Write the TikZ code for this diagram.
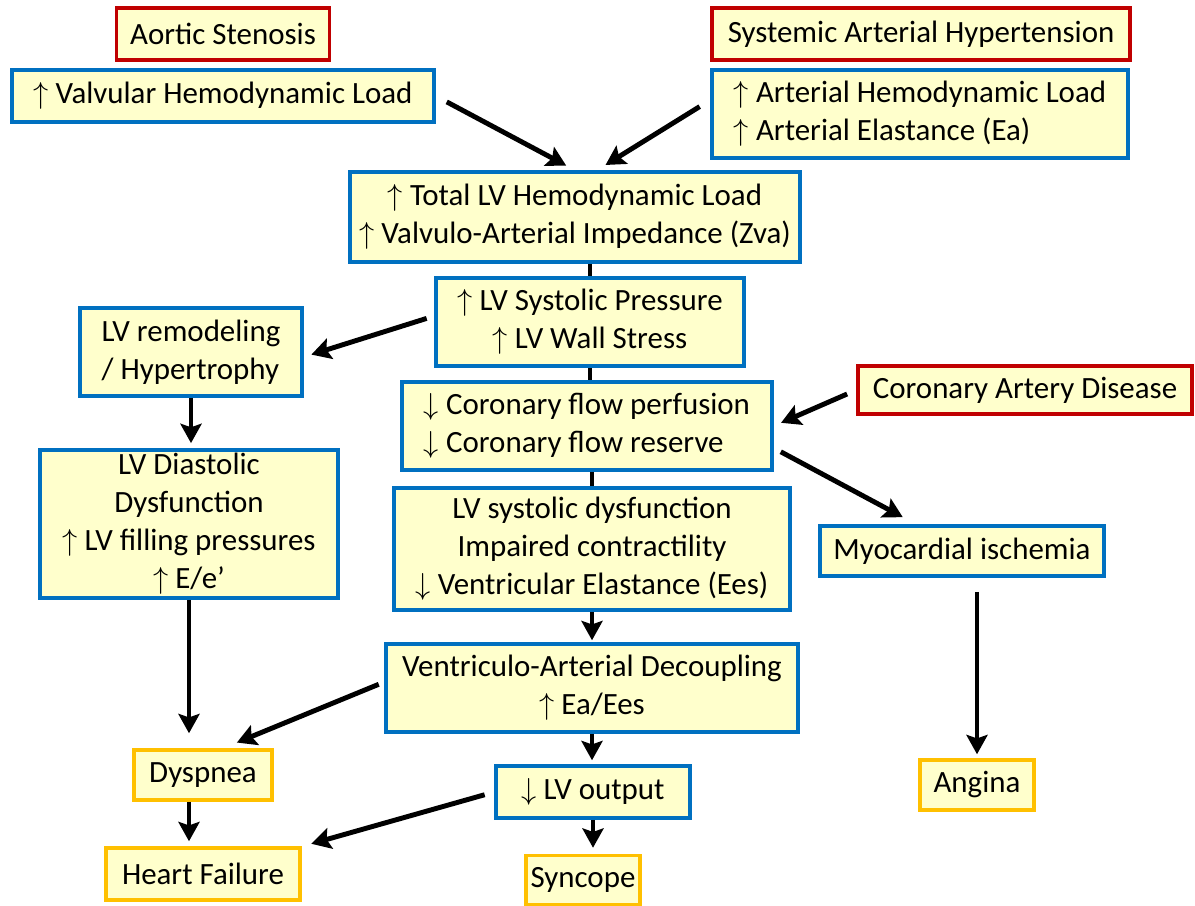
\documentclass[tikz,border=0pt]{standalone}
\usepackage{fontspec}
\setmainfont{Carlito}
\usetikzlibrary{arrows.meta}
\definecolor{boxfill}{RGB}{255,255,204}
\definecolor{boxblue}{RGB}{0,112,192}
\definecolor{boxred}{RGB}{192,0,0}
\definecolor{boxgold}{RGB}{255,192,0}
\newcommand{\up}{$\uparrow$}
\newcommand{\dn}{$\downarrow$}
\tikzset{
  box/.style={draw,fill=boxfill,line width=2pt,align=center,inner sep=2pt,
    font=\fontsize{17.6pt}{21.6pt}\selectfont},
  bluebox/.style={box,draw=boxblue},
  redbox/.style={box,draw=boxred},
  goldbox/.style={box,draw=boxgold},
  arr/.style={line width=2.8pt,-{Stealth[length=11pt,width=12pt,inset=2pt]}},
  link/.style={line width=2.8pt}
}

\begin{document}
\begin{tikzpicture}[x=0.02cm,y=-0.02cm]
            \useasboundingbox (0,0) rectangle (1195,905);
            % causes
            \node[redbox,minimum width=4.26cm,minimum height=1.04cm] (as) at (223,34) {Aortic Stenosis};
            \node[redbox,minimum width=8.36cm,minimum height=1.04cm] (sah) at (921,34) {Systemic Arterial Hypertension};
            \node[bluebox,minimum width=8.44cm,minimum height=1.04cm] (valv) at (223,96) {\up\ Valvular Hemodynamic Load};
            \node[bluebox,align=left,minimum width=8.32cm,minimum height=1.76cm] (art) at (920,114) {\up\ Arterial Hemodynamic Load\\\up\ Arterial Elastance (Ea)};
            % central column
            \node[bluebox,minimum width=9cm,minimum height=1.8cm] (total) at (575,217) {\up\ Total LV Hemodynamic Load\\\up\ Valvulo-Arterial Impedance (Zva)};
            \node[bluebox,minimum width=6.16cm,minimum height=1.76cm] (sys) at (590,322) {\up\ LV Systolic Pressure\\\up\ LV Wall Stress};
            \node[bluebox,align=left,minimum width=7.4cm,minimum height=1.76cm] (cor) at (587,426) {\dn\ Coronary flow perfusion\\\dn\ Coronary flow reserve};
            \node[bluebox,minimum width=7.92cm,minimum height=2.44cm] (lvsd) at (592,549) {LV systolic dysfunction\\Impaired contractility\\\dn\ Ventricular Elastance (Ees)};
            \node[bluebox,minimum width=8.24cm,minimum height=1.76cm] (dec) at (592,688) {Ventriculo-Arterial Decoupling\\\up\ Ea/Ees};
            \node[bluebox,minimum width=3.88cm,minimum height=1.04cm] (out) at (593,792) {\dn\ LV output};
            \node[goldbox,minimum width=2.28cm,minimum height=0.98cm] (sync) at (583,880) {Syncope};
            % left column
            \node[bluebox,align=left,minimum width=4.44cm,minimum height=1.76cm] (remod) at (191,352) {LV remodeling\\/ Hypertrophy};
            \node[bluebox,minimum width=5.96cm,minimum height=2.96cm] (diast) at (189,524) {LV Diastolic\\Dysfunction\\\up\ LV filling pressures\\\up\ E/e'};
            \node[goldbox,minimum width=2.76cm,minimum height=1cm] (dysp) at (203,775) {Dyspnea};
            \node[goldbox,minimum width=3.88cm,minimum height=1.04cm] (hf) at (203,874) {Heart Failure};
            % right column
            \node[redbox,minimum width=6.68cm,minimum height=0.96cm] (cad) at (1025,390) {Coronary Artery Disease};
            \node[bluebox,minimum width=5.68cm,minimum height=1cm] (myo) at (962,551) {Myocardial ischemia};
            \node[goldbox,minimum width=2.28cm,minimum height=1cm] (ang) at (977,785) {Angina};
            % connectors
            \draw[arr,shorten <=0.25cm,shorten >=0.2cm] (valv.east) -- (total.north);
            \draw[arr,shorten <=0.25cm,shorten >=0.2cm] ([yshift=0.28cm]art.west) -- ([xshift=0.44cm]total.north);
            \draw[link] (sys.north |- total.south) -- (sys.north);
            \draw[link] (sys.south) -- (sys.south |- cor.north);
            \draw[link] (lvsd.north |- cor.south) -- (lvsd.north);
            \draw[arr,shorten >=0.04cm] (lvsd.south) -- (dec.north);
            \draw[arr,shorten >=0.08cm] (dec.south) -- (dec.south |- out.north);
            \draw[arr,shorten >=0.12cm] (out.south) -- (out.south |- sync.north);
            \draw[arr,shorten <=0.16cm,shorten >=0.16cm] ([yshift=0.12cm]sys.west) -- ([yshift=-0.1cm]remod.east);
            \draw[arr,shorten >=0.1cm] (remod.south) -- (remod.south |- diast.north);
            \draw[arr,shorten >=0.3cm] (diast.south) -- (diast.south |- dysp.north);
            \draw[arr,shorten <=0.12cm,shorten >=0.3cm] ([yshift=0.12cm]dec.west) -- ([xshift=0.4cm]dysp.north);
            \draw[arr,shorten >=0.1cm] (diast.south |- dysp.south) -- (diast.south |- hf.north);
            \draw[arr,shorten <=0.2cm,shorten >=0.2cm] (out.west) -- ([yshift=0.55cm]hf.east);
            \draw[arr,shorten <=0.2cm,shorten >=0.16cm] (cad.west) -- (cor.east);
            \draw[arr,shorten <=0.16cm,shorten >=0.3cm] ([yshift=-0.44cm]cor.east) -- ([xshift=-0.92cm]myo.north);
            \draw[arr,shorten <=0.28cm,shorten >=0.08cm] (ang.north |- myo.south) -- (ang.north);
\end{tikzpicture}
\end{document}
